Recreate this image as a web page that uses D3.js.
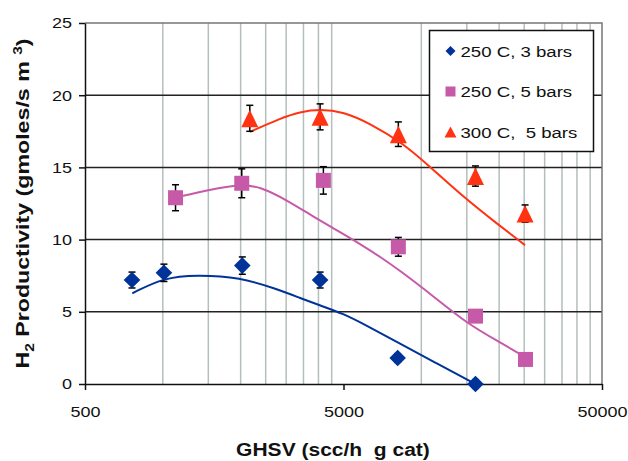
<!DOCTYPE html>
<html>
<head>
<meta charset="utf-8">
<script src="https://cdn.jsdelivr.net/npm/d3@7"></script>
<style>
  body { margin: 0; background: #fff; }
  text { font-family: "Liberation Sans", Arial, sans-serif; fill: #111; }
  .title { font-weight: bold; white-space: pre; }
</style>
</head>
<body>
<script>
const W = 628;
const H = 461;
const margin = { top: 23, left: 85, bottom: 77, right: 26 };
const width = W - margin.left - margin.right;
const height = H - margin.top - margin.bottom;

// tick values
const xTickVals = [500, 5000, 50000];
const xGridVals = [1000, 1500, 2000, 2500, 3000, 3500, 4000, 4500,
  10000, 15000, 20000, 25000, 30000, 35000, 40000, 45000];
const yTickVals = [0, 5, 10, 15, 20, 25];

// 250 C, 3 bars
const ghsv3 = [760, 1010, 2030, 4060, 8100, 16200];
const prod3 = [7.2, 7.7, 8.2, 7.2, 1.8, 0.0];
const err3 = [0.55, 0.6, 0.6, 0.55, 0.3, 0.3];
const trend3X = [762, 1005, 1352, 1990, 2758, 3394, 4056, 4977, 6149, 8072, 11400, 16232];
const trend3Y = [6.28, 7.36, 7.56, 7.39, 6.58, 5.96, 5.44, 4.88, 4.04, 2.91, 1.45, 0.0];

// 250 C, 5 bars
const ghsv5 = [1120, 2020, 4180, 8150, 16200, 25300];
const prod5 = [12.9, 13.9, 14.1, 9.5, 4.7, 1.7];
const err5 = [0.9, 1.0, 0.95, 0.65, 0.3, 0.3];
const trend5X = [1115, 1522, 2019, 2376, 3015, 3820, 4706, 5623, 6919, 8271, 11130, 14985, 20150, 25350];
const trend5Y = [12.9, 13.48, 13.83, 13.66, 12.74, 11.59, 10.66, 9.85, 8.82, 7.85, 6.08, 4.2, 2.88, 1.85];

// 300 C, 5 bars
const ghsvHot = [2170, 4060, 8150, 16200, 25200];
const prodHot = [18.4, 18.5, 17.3, 14.4, 11.8];
const errHot = [0.9, 0.9, 0.85, 0.7, 0.6];
const trendHotX = [2173, 2840, 3394, 4056, 4995, 6333, 8518, 10806, 14535, 19572, 25180];
const trendHotY = [17.46, 18.39, 18.85, 19.03, 18.85, 18.04, 16.66, 15.04, 12.96, 11.12, 9.62];

const seriesNames = ['250 C, 3 bars', '250 C, 5 bars', '300 C,  5 bars'];
const colors = ['#003399', '#c65aa8', '#ff3311'];
const markerPaths = [
  'M0,-8.3L8.3,0L0,8.3L-8.3,0Z',
  'M-7.5,-7.5H7.5V7.5H-7.5Z',
  'M0,-8.5L8.5,9L-8.5,9Z',
];
const legendPaths = [
  'M0,-5L5,0L0,5L-5,0Z',
  'M-5,-5H5V5H-5Z',
  'M0,-5.5L6,5.5L-6,5.5Z',
];

const series = [
  { x: ghsv3, y: prod3, e: err3, tx: trend3X, ty: trend3Y },
  { x: ghsv5, y: prod5, e: err5, tx: trend5X, ty: trend5Y },
  { x: ghsvHot, y: prodHot, e: errHot, tx: trendHotX, ty: trendHotY },
];

const xScale = d3.scaleLog().domain([500, 50000]).range([0, width]);
const yScale = d3.scaleLinear().domain([0, 25]).range([height, 0]);

const root = d3.select('body').append('svg').attr('width', W).attr('height', H);
const svg = root.append('g')
  .attr('transform', 'translate(' + margin.left + ',' + margin.top + ')');

// vertical gridlines
svg.append('g').selectAll('line')
  .data(xGridVals)
  .enter()
  .append('line')
  .attr('x1', d => xScale(d)).attr('x2', d => xScale(d))
  .attr('y1', 0).attr('y2', height)
  .attr('stroke', '#b5bdbd').attr('stroke-width', 1.5);

// horizontal gridlines
svg.append('g').selectAll('line')
  .data(yTickVals.slice(1, -1))
  .enter()
  .append('line')
  .attr('x1', 0).attr('x2', width)
  .attr('y1', d => yScale(d)).attr('y2', d => yScale(d))
  .attr('stroke', '#222').attr('stroke-width', 1.5);

// plot border (top and right)
svg.append('path')
  .attr('d', 'M0,0H' + width + 'V' + height)
  .attr('fill', 'none').attr('stroke', '#777').attr('stroke-width', 1.5);

// axes
const yAxis = d3.axisLeft(yScale).tickValues(yTickVals).tickSizeInner(6).tickSizeOuter(0).tickPadding(7);
const yAxisG = svg.append('g').call(yAxis);
const xAxis = d3.axisBottom(xScale).tickValues(xTickVals).tickFormat(d3.format('d'))
  .tickSizeInner(6).tickSizeOuter(0).tickPadding(16);
const xAxisG = svg.append('g').attr('transform', 'translate(0,' + height + ')').call(xAxis);

[yAxisG, xAxisG].forEach(g => {
  g.select('.domain').attr('stroke', '#111').attr('stroke-width', 1.5);
  g.selectAll('.tick line').attr('stroke', '#111').attr('stroke-width', 1.5);
  g.selectAll('.tick text').attr('fill', '#111').style('font-size', '15px')
    .style('font-family', '"Liberation Sans", Arial, sans-serif');
});

// trend lines
const line = d3.line()
  .x(d => xScale(d[0]))
  .y(d => yScale(d[1]))
  .curve(d3.curveBasis);

series.forEach((s, i) => {
  svg.append('path')
    .datum(d3.zip(s.tx, s.ty))
    .attr('fill', 'none')
    .attr('stroke', colors[i])
    .attr('stroke-width', 2)
    .attr('d', line);
});

// error bars and markers
series.forEach((s, i) => {
  const pts = d3.zip(s.x, s.y, s.e);
  const g = svg.append('g');
  const eb = g.selectAll('g.err').data(pts).enter().append('g').attr('class', 'err');
  eb.append('line')
    .attr('x1', d => xScale(d[0])).attr('x2', d => xScale(d[0]))
    .attr('y1', d => yScale(d[1] + d[2])).attr('y2', d => yScale(d[1] - d[2]))
    .attr('stroke', '#000').attr('stroke-width', 1.5);
  [1, -1].forEach(sign => {
    eb.append('line')
      .attr('x1', d => xScale(d[0]) - 3.5).attr('x2', d => xScale(d[0]) + 3.5)
      .attr('y1', d => yScale(d[1] + sign * d[2])).attr('y2', d => yScale(d[1] + sign * d[2]))
      .attr('stroke', '#000').attr('stroke-width', 1.5);
  });
  g.selectAll('path.mark').data(pts).enter().append('path')
    .attr('class', 'mark')
    .attr('transform', d => 'translate(' + xScale(d[0]) + ',' + yScale(d[1]) + ')')
    .attr('d', markerPaths[i])
    .attr('fill', colors[i]);
});

// legend
const legend = root.append('g').attr('transform', 'translate(429.5,30.5)');
legend.append('rect')
  .attr('width', 164).attr('height', 121)
  .attr('fill', '#fff').attr('stroke', '#111').attr('stroke-width', 1.5);
seriesNames.forEach((name, i) => {
  const row = legend.append('g').attr('transform', 'translate(21,' + (20.5 + i * 40.5) + ')');
  row.append('path').attr('d', legendPaths[i]).attr('fill', colors[i]);
  row.append('text')
    .attr('class', 'stretch')
    .attr('x', 10).attr('y', 5.7)
    .style('font-size', '15.5px')
    .style('white-space', 'pre')
    .text(name);
});

// axis titles
root.append('text')
  .attr('class', 'title stretch')
  .attr('x', 333).attr('y', 456)
  .attr('text-anchor', 'middle')
  .style('font-size', '17.5px')
  .text('GHSV (scc/h  g cat)');

const yTitle = root.append('text')
  .attr('class', 'title')
  .attr('transform', 'translate(28.5,' + (margin.top + height / 2) + ') rotate(-90)')
  .attr('text-anchor', 'middle')
  .attr('textLength', 330)
  .attr('lengthAdjust', 'spacingAndGlyphs')
  .style('font-size', '18px');
yTitle.append('tspan').text('H');
yTitle.append('tspan').attr('dy', 5).style('font-size', '12px').text('2');
yTitle.append('tspan').attr('dy', -5).text(' Productivity (gmoles/s m ');
yTitle.append('tspan').attr('dy', -7).style('font-size', '12px').text('3');
yTitle.append('tspan').attr('dy', 7).text(')');

// the original lettering is wider than Arial; stretch horizontal text to match
root.selectAll('.stretch, .tick text').each(function () {
  const len = this.getComputedTextLength();
  d3.select(this).attr('textLength', len * 1.2).attr('lengthAdjust', 'spacingAndGlyphs');
});
</script>
</body>
</html>
